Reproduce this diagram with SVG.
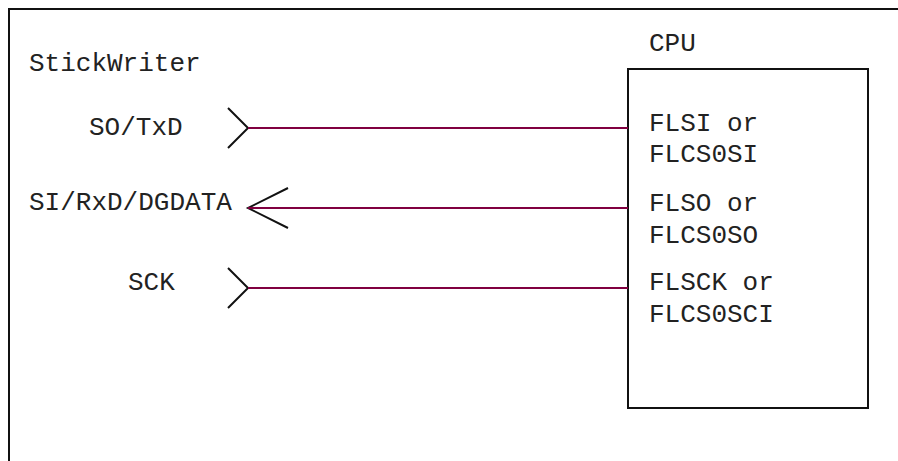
<svg xmlns="http://www.w3.org/2000/svg" width="898" height="461" viewBox="0 0 898 461">
<style>
text{font-family:"Liberation Mono","Courier New",monospace;font-size:26px;fill:#222}
.chev{fill:none;stroke:#111;stroke-width:2}
.wire{fill:none;stroke:#800040;stroke-width:2}
.box{fill:none;stroke:#111;stroke-width:2}
</style>
<rect width="898" height="461" fill="#fff"/>
<g id="frame"><path class="box" d="M9,470 V9 H905"/></g>
<g id="stickwriter">
<text x="29" y="71">StickWriter</text>
</g>
<g id="so-txd">
<text x="89" y="135">SO/TxD</text>
<path class="chev" d="M228,108 L248,128 L228,148"/>
</g>
<g id="si-rxd">
<text x="29" y="210">SI/RxD/DGDATA</text>
<path class="chev" d="M288,188 L248,208 L288,228"/>
</g>
<g id="sck">
<text x="128" y="290">SCK</text>
<path class="chev" d="M228,268 L248,288 L228,308"/>
</g>
<g id="cpu">
<text x="649" y="51">CPU</text>
<rect class="box" x="628" y="69" width="240" height="339"/>
<text x="649" y="131">FLSI or</text>
<text x="649" y="162">FLCS0SI</text>
<text x="649" y="211">FLSO or</text>
<text x="649" y="243">FLCS0SO</text>
<text x="649" y="290">FLSCK or</text>
<text x="649" y="322">FLCS0SCI</text>
</g>
<g id="connectors">
<line class="wire" x1="248" y1="128" x2="628" y2="128"/>
<line class="wire" x1="248" y1="208" x2="628" y2="208"/>
<line class="wire" x1="248" y1="288" x2="628" y2="288"/>
</g>
</svg>
